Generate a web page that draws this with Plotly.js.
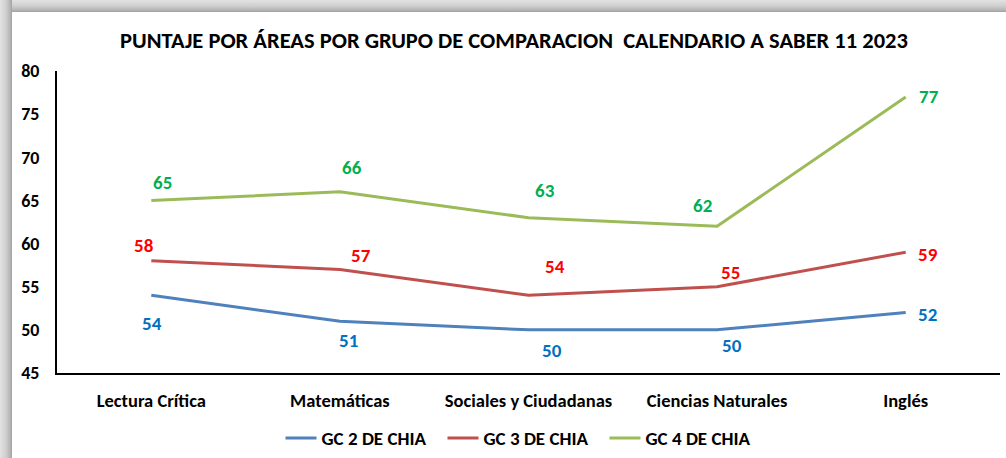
<!DOCTYPE html>
<html>
<head>
<meta charset="utf-8">
<script src="https://cdn.plot.ly/plotly-3.0.1.min.js"></script>
<style>
  html, body { margin: 0; padding: 0; background: #ffffff; }
  #wrap { position: relative; width: 1006px; height: 458px; overflow: hidden; background: #ffffff; }
  #bandTop { position: absolute; left: 0; top: 0; width: 1006px; height: 12px;
    background: linear-gradient(to bottom, #e2e2e2 0%, #cfcfcf 50%, #b4b4b4 85%, #a0a0a0 100%); }
  #bandLeft { position: absolute; left: 0; top: 0; width: 12px; height: 458px;
    background: linear-gradient(to right, #e2e2e2 0%, #cfcfcf 50%, #b4b4b4 85%, #a0a0a0 100%); }
  #chart { position: absolute; left: 0; top: 0; width: 1006px; height: 458px; }
</style>
</head>
<body>
<div id="wrap">
  <div id="bandTop"></div>
  <div id="bandLeft"></div>
  <div id="chart"></div>
</div>
<script>
// ---- data ----
const categories = ["Lectura Crítica", "Matemáticas", "Sociales y Ciudadanas", "Ciencias Naturales", "Inglés"];
const seriesNames = ["GC 2 DE CHIA", "GC 3 DE CHIA", "GC 4 DE CHIA"];
const gc2 = [54, 51, 50, 50, 52];
const gc3 = [58, 57, 54, 55, 59];
const gc4 = [65, 66, 63, 62, 77];
const yTicks = [45, 50, 55, 60, 65, 70, 75, 80];

// ---- styles ----
const FONT = "Carlito, Calibri, 'Liberation Sans Narrow', 'Open Sans', sans-serif";
const lineColors = ["#4f81bd", "#c0504d", "#9bbb59"];
const labelColors = ["#0070c0", "#ff0000", "#00b050"];
// label offsets in px (dx, dy with dy positive = down)
const labelOffsets = [
  [[1, 28], [9, 19], [23, 21], [15, 16], [22, 2]],
  [[-7, -15], [21, -14], [26, -29], [13, -14], [22, 2]],
  [[11, -18], [12, -24], [16, -27], [-15, -21], [23, 0]]
];

const series = [gc2, gc3, gc4];
const traces = series.map((vals, i) => ({
  type: "scatter",
  mode: "lines",
  name: seriesNames[i],
  x: categories,
  y: vals,
  line: { color: lineColors[i], width: 3 },
  hoverinfo: "x+y+name"
}));

const annotations = [];
series.forEach((vals, i) => {
  vals.forEach((v, j) => {
    annotations.push({
      x: categories[j], y: v, xref: "x", yref: "y",
      text: String(v), showarrow: false,
      xshift: labelOffsets[i][j][0], yshift: -labelOffsets[i][j][1],
      font: { family: FONT, size: 19, color: labelColors[i], weight: "bold" }
    });
  });
});

const layout = {
  width: 1006, height: 458,
  paper_bgcolor: "rgba(0,0,0,0)",
  plot_bgcolor: "rgba(0,0,0,0)",
  margin: { l: 57, r: 6, t: 71, b: 85, autoexpand: false },
  font: { family: FONT, size: 18, color: "#000000", weight: "bold" },
  title: {
    text: "PUNTAJE POR ÁREAS POR GRUPO DE COMPARACION  CALENDARIO A SABER 11 2023",
    font: { family: FONT, size: 22.5, color: "#000000", weight: "bold" },
    x: 514 / 1006, xanchor: "center", xref: "container",
    y: 1 - 40 / 458, yanchor: "middle", yref: "container"
  },
  xaxis: {
    type: "category",
    range: [-0.5, 4.5],
    showgrid: false, zeroline: false,
    showline: true, linecolor: "#000000", linewidth: 2,
    ticks: "", ticklabelstandoff: 10,
    tickfont: { family: FONT, size: 18.5, color: "#000000", weight: "bold" },
    fixedrange: true
  },
  yaxis: {
    range: [45, 80],
    tickvals: yTicks, ticktext: yTicks.map(String),
    showgrid: false, zeroline: false,
    showline: true, linecolor: "#000000", linewidth: 2,
    ticks: "", ticklabelstandoff: 12,
    tickfont: { family: FONT, size: 18, color: "#000000", weight: "bold" },
    fixedrange: true
  },
  showlegend: true,
  legend: {
    orientation: "h",
    x: 0.4947, xanchor: "center",
    y: -0.2156, yanchor: "middle",
    font: { family: FONT, size: 19, color: "#000000", weight: "bold" },
    itemwidth: 31,
    entrywidth: 116, entrywidthmode: "pixels",
    tracegroupgap: 0,
    bgcolor: "rgba(0,0,0,0)"
  },
  annotations: annotations
};

Plotly.newPlot("chart", traces, layout, { displayModeBar: false, staticPlot: false });
</script>
</body>
</html>
